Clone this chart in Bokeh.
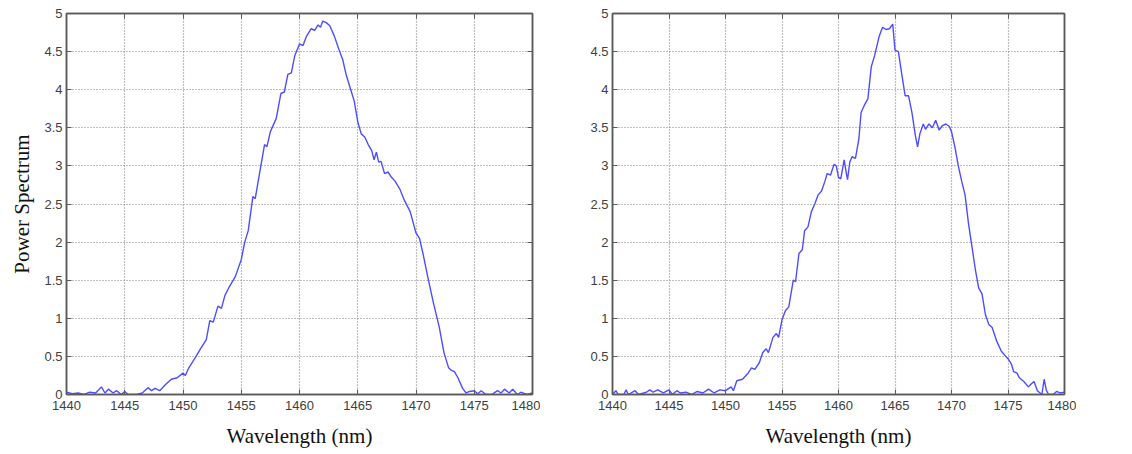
from bokeh.plotting import figure
from bokeh.layouts import row
from bokeh.models import Range1d, LinearAxis, FixedTicker, CustomJSTickFormatter
from bokeh.embed import file_html
from bokeh.resources import INLINE

x_ticks = [1440, 1445, 1450, 1455, 1460, 1465, 1470, 1475, 1480]
y_ticks = [0, 0.5, 1, 1.5, 2, 2.5, 3, 3.5, 4, 4.5, 5]
x_label = "Wavelength (nm)"
y_label = "Power Spectrum"

wl_left = [1440.0, 1440.5, 1441.0, 1441.5, 1442.0, 1442.5, 1443.0, 1443.3, 1443.6, 1444.0,
           1444.3, 1444.7, 1445.0, 1445.3, 1445.7, 1446.0, 1446.5, 1447.0, 1447.3, 1447.6,
           1448.0, 1448.5, 1449.0, 1449.5, 1450.0, 1450.2, 1450.5, 1451.0, 1451.5, 1452.0,
           1452.3, 1452.6, 1453.0, 1453.3, 1453.6, 1454.0, 1454.5, 1455.0, 1455.3, 1455.6,
           1456.0, 1456.2, 1456.5, 1457.0, 1457.2, 1457.5, 1458.0, 1458.4, 1458.7, 1459.0,
           1459.3, 1459.6, 1460.0, 1460.3, 1460.6, 1461.0, 1461.3, 1461.6, 1461.8, 1462.0,
           1462.3, 1462.6, 1463.0, 1463.4, 1463.7, 1464.0, 1464.4, 1464.7, 1465.0, 1465.3,
           1465.6, 1465.9, 1466.2, 1466.4, 1466.6, 1466.8, 1467.0, 1467.3, 1467.6, 1467.9,
           1468.2, 1468.6, 1469.0, 1469.5, 1470.0, 1470.3, 1470.6, 1471.0, 1471.5, 1472.0,
           1472.4, 1472.8, 1473.0, 1473.3, 1473.6, 1474.0, 1474.3, 1474.6, 1475.0, 1475.3,
           1475.6, 1476.0, 1476.5, 1477.0, 1477.3, 1477.6, 1478.0, 1478.3, 1478.7, 1479.0,
           1479.5, 1480.0]
pw_left = [0.03, 0.01, 0.02, 0.0, 0.03, 0.02, 0.1, 0.02, 0.07, 0.02,
           0.05, 0.0, 0.04, 0.0, 0.0, 0.0, 0.02, 0.09, 0.05, 0.08,
           0.05, 0.13, 0.2, 0.22, 0.28, 0.25, 0.35, 0.47, 0.6, 0.72,
           0.97, 0.95, 1.16, 1.13, 1.3, 1.42, 1.55, 1.77, 2.0, 2.15,
           2.6, 2.57, 2.84, 3.28, 3.25, 3.45, 3.62, 3.95, 3.97, 4.2,
           4.22, 4.45, 4.6, 4.58, 4.7, 4.8, 4.78, 4.85, 4.82, 4.9,
           4.88, 4.84, 4.7, 4.52, 4.4, 4.2, 4.0, 3.85, 3.58, 3.42,
           3.38, 3.28, 3.2, 3.08, 3.18, 3.05, 3.06, 2.9, 2.92, 2.85,
           2.8, 2.7, 2.55, 2.4, 2.12, 2.05, 1.85, 1.55, 1.2, 0.88,
           0.55, 0.35, 0.32, 0.3, 0.22, 0.08, 0.02, 0.04, 0.05, 0.01,
           0.05, 0.0, 0.0, 0.05, 0.02, 0.07, 0.02, 0.07, 0.0, 0.03,
           0.0, 0.02]

wl_right = [1440.0, 1440.3, 1440.5, 1441.0, 1441.2, 1441.4, 1442.0, 1442.3, 1443.0, 1443.3,
            1443.6, 1444.0, 1444.5, 1445.0, 1445.3, 1445.7, 1446.0, 1446.5, 1447.0, 1447.5,
            1448.0, 1448.5, 1449.0, 1449.5, 1450.0, 1450.5, 1450.7, 1451.0, 1451.5, 1452.0,
            1452.3, 1452.6, 1453.0, 1453.3, 1453.6, 1453.8, 1454.2, 1454.5, 1454.7, 1455.0,
            1455.3, 1455.6, 1456.0, 1456.2, 1456.5, 1456.8, 1457.0, 1457.3, 1457.6, 1457.9,
            1458.2, 1458.5, 1458.8, 1459.0, 1459.3, 1459.6, 1459.8, 1460.0, 1460.2, 1460.5,
            1460.7, 1460.8, 1461.0, 1461.2, 1461.5, 1461.8, 1462.0, 1462.3, 1462.6, 1462.9,
            1463.2, 1463.6, 1463.9, 1464.2, 1464.5, 1464.8, 1465.0, 1465.3, 1465.6, 1465.9,
            1466.2, 1466.5, 1466.8, 1467.0, 1467.2, 1467.5, 1467.7, 1468.0, 1468.3, 1468.6,
            1468.9, 1469.2, 1469.5, 1469.8, 1470.0, 1470.3, 1470.6, 1470.9, 1471.2, 1471.5,
            1471.8, 1472.1, 1472.4, 1472.7, 1473.0, 1473.3, 1473.6, 1474.0, 1474.4, 1474.8,
            1475.0, 1475.3, 1475.5, 1475.8, 1476.0, 1476.4, 1476.8, 1477.0, 1477.3, 1477.6,
            1478.0, 1478.2, 1478.4, 1478.6, 1479.0, 1479.3, 1479.6, 1480.0]
pw_right = [0.0, 0.05, 0.0, 0.0, 0.06, 0.0, 0.05, 0.0, 0.03, 0.06,
            0.03, 0.06, 0.02, 0.06, 0.0, 0.05, 0.02, 0.03, 0.0, 0.04,
            0.02, 0.07, 0.02, 0.06, 0.05, 0.1, 0.05, 0.18, 0.2, 0.28,
            0.35, 0.33, 0.42, 0.55, 0.6, 0.55, 0.75, 0.8, 0.75, 0.98,
            1.1, 1.15, 1.5, 1.48, 1.85, 1.9, 2.15, 2.2, 2.4, 2.5,
            2.62, 2.67, 2.8, 2.9, 2.88, 3.02, 3.0, 2.85, 2.83, 3.08,
            2.9, 2.82, 3.05, 3.12, 3.1, 3.35, 3.7, 3.8, 3.88, 4.3,
            4.45, 4.7, 4.82, 4.79, 4.8, 4.86, 4.52, 4.5, 4.2, 3.92,
            3.92, 3.7, 3.4, 3.25, 3.42, 3.55, 3.48, 3.55, 3.5, 3.6,
            3.47, 3.53, 3.55, 3.52, 3.45, 3.25, 3.0, 2.8, 2.62, 2.25,
            1.95, 1.65, 1.4, 1.32, 1.05, 0.92, 0.88, 0.7, 0.57, 0.5,
            0.47, 0.4, 0.3, 0.28, 0.22, 0.17, 0.1, 0.13, 0.17, 0.05,
            0.0, 0.2, 0.05, 0.0, 0.0, 0.04, 0.02, 0.03]

LINE_COLOR = "#4d4dff"
FRAME_COLOR = "#5a5a5a"
TICK_TEXT = "#404040"


def style_axis(ax, ticks, show_labels=True):
    ax.ticker = FixedTicker(ticks=ticks)
    ax.axis_line_color = FRAME_COLOR
    ax.axis_line_width = 1.5
    ax.major_tick_in = 5
    ax.major_tick_out = 0
    ax.major_tick_line_color = FRAME_COLOR
    ax.minor_tick_line_color = None
    if show_labels:
        ax.formatter = CustomJSTickFormatter(code="return tick.toString();")
        ax.major_label_text_font = "Liberation Sans"
        ax.major_label_text_font_size = "13px"
        ax.major_label_text_color = TICK_TEXT
        ax.major_label_standoff = 6
    else:
        ax.major_label_text_font_size = "0px"
        ax.major_label_text_color = None
        ax.major_label_text_alpha = 0
        ax.major_label_standoff = 0


def make_fig(wl, pw, width, left_border, right_border, with_ylabel):
    p = figure(width=width, height=450,
               x_range=Range1d(1440, 1480), y_range=Range1d(0, 5),
               output_backend="svg", toolbar_location=None,
               min_border_left=left_border, min_border_right=right_border,
               min_border_top=13, min_border_bottom=55)
    p.background_fill_color = "white"
    p.border_fill_color = "white"
    p.outline_line_color = FRAME_COLOR
    p.outline_line_width = 1.5

    style_axis(p.xaxis[0], x_ticks)
    style_axis(p.yaxis[0], y_ticks)
    p.yaxis[0].major_label_standoff = 4
    p.xaxis[0].axis_label = x_label
    p.xaxis[0].axis_label_text_font = "Liberation Serif"
    p.xaxis[0].axis_label_text_font_size = "21px"
    p.xaxis[0].axis_label_text_font_style = "normal"
    p.xaxis[0].axis_label_text_color = "#111111"
    p.xaxis[0].axis_label_standoff = 11
    if with_ylabel:
        p.yaxis[0].axis_label = y_label
        p.yaxis[0].axis_label_text_font = "Liberation Serif"
        p.yaxis[0].axis_label_text_font_size = "21px"
        p.yaxis[0].axis_label_text_font_style = "normal"
        p.yaxis[0].axis_label_text_color = "#111111"
        p.yaxis[0].axis_label_standoff = 7

    top = LinearAxis()
    style_axis(top, x_ticks, show_labels=False)
    p.add_layout(top, "above")
    right = LinearAxis()
    style_axis(right, y_ticks, show_labels=False)
    p.add_layout(right, "right")

    p.xgrid.ticker = FixedTicker(ticks=x_ticks)
    p.ygrid.ticker = FixedTicker(ticks=y_ticks)
    for g in (p.xgrid[0], p.ygrid[0]):
        g.grid_line_color = "#808080"
        g.grid_line_dash = "1 2"
        g.grid_line_width = 1.2

    p.line(wl, pw, line_color=LINE_COLOR, line_width=1.4)
    return p


p1 = make_fig(wl_left, pw_left, 540, 66, 8, True)
p2 = make_fig(wl_right, pw_right, 536, 72, 12, False)
layout = row(p1, p2)

open("out.html", "w").write(file_html(layout, INLINE))
